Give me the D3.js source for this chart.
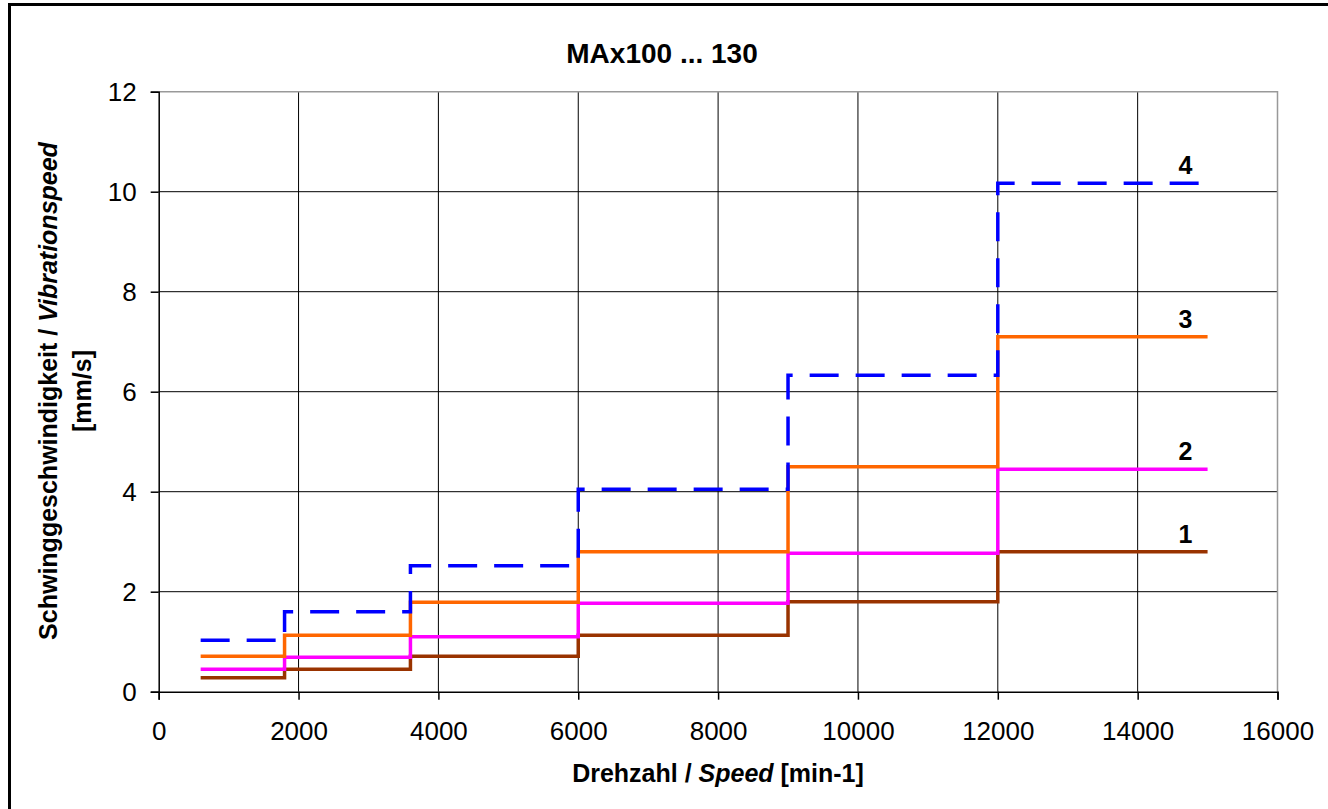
<!DOCTYPE html>
<meta charset="utf-8">
<title>MAx100 ... 130</title>
<style>
body { margin: 0; background: #fff; }
svg { display: block; }
text { font-family: "Liberation Sans", Arial, sans-serif; fill: #000; }
.tick text { font-size: 26px; }
.ttl { font-size: 25px; font-weight: bold; }
.main { font-size: 28px; font-weight: bold; }
</style>
<svg></svg>
<script src="https://cdn.jsdelivr.net/npm/d3@7"></script>
<script>
// step edges [min-1] and levels [mm/s] per curve
var speed = [600, 1800, 3600, 6000, 9000, 12000, 15000];
var curve1 = [0.28, 0.45, 0.71, 1.13, 1.8, 2.8];
var curve2 = [0.45, 0.69, 1.1, 1.77, 2.77, 4.45];
var curve3 = [0.71, 1.13, 1.79, 2.8, 4.5, 7.1];
var curve4 = [1.03, 1.6, 2.52, 4.05, 6.33, 10.17];
var curveNames = ["1", "2", "3", "4"];
var curveColors = ["#993300", "#ff00ff", "#ff6600", "#0000ff"];
var xTicks = [0, 2000, 4000, 6000, 8000, 10000, 12000, 14000, 16000];
var yTicks = [0, 2, 4, 6, 8, 10, 12];

var width = 1328, height = 809;
var svg = d3.select("svg").attr("width", width).attr("height", height);

// outer frame (runs off the right/bottom of the picture)
svg.append("rect")
    .attr("x", 9.5).attr("y", 4.5)
    .attr("width", 1400).attr("height", 900)
    .style("fill", "none").style("stroke", "#000").style("stroke-width", 3);

var x = d3.scaleLinear().domain([0, 16000]).range([158.7, 1277.5]);
var y = d3.scaleLinear().domain([0, 12]).range([691.7, 91.7]);

// grid
var grid = svg.append("g");
grid.selectAll(".gx")
    .data(xTicks.slice(1, -1))
  .enter().append("line")
    .attr("x1", d => x(d)).attr("x2", d => x(d))
    .attr("y1", y(12)).attr("y2", y(0))
    .style("stroke", "#000").style("stroke-width", 1);
grid.selectAll(".gy")
    .data(yTicks.slice(1, -1))
  .enter().append("line")
    .attr("x1", x(0)).attr("x2", x(16000))
    .attr("y1", d => y(d)).attr("y2", d => y(d))
    .style("stroke", "#000").style("stroke-width", 1);
// top + right edge of plot area, grey
grid.append("path")
    .attr("d", "M" + x(0) + "," + y(12) + "H" + x(16000) + "V" + y(0))
    .style("fill", "none").style("stroke", "#999").style("stroke-width", 1.5);

// axes
var xAxis = svg.append("g")
    .attr("transform", "translate(0," + y(0) + ")")
    .call(d3.axisBottom(x).tickValues(xTicks).tickSize(8).tickPadding(22).tickFormat(d3.format("d")));
var yAxis = svg.append("g")
    .attr("transform", "translate(" + x(0) + ",0)")
    .call(d3.axisLeft(y).tickValues(yTicks).tickSize(8).tickPadding(14).tickFormat(d3.format("d")));
[xAxis, yAxis].forEach(function(g) {
  g.attr("font-family", null).attr("font-size", null);
  g.select(".domain").style("stroke", "#000").style("stroke-width", 1.5);
  g.selectAll(".tick line").style("stroke", "#000").style("stroke-width", 1.5);
});

// step curves
var curves = [curve1, curve2, curve3, curve4];
var line = d3.line()
    .x(d => x(d[0]))
    .y(d => y(d[1]))
    .curve(d3.curveStepAfter);

curves.forEach(function(vals, i) {
  var pts = speed.map(function(s, j) { return [s, vals[Math.min(j, vals.length - 1)]]; });
  svg.append("path")
      .datum(pts)
      .attr("d", line)
      .style("fill", "none")
      .style("stroke", curveColors[i])
      .style("stroke-width", 3.5)
      .style("stroke-dasharray", i == 3 ? "29,17" : null);
  svg.append("text")
      .attr("class", "ttl")
      .attr("x", x(speed[speed.length - 1]) - 22)
      .attr("y", y(vals[vals.length - 1]) - 9)
      .attr("text-anchor", "middle")
      .text(curveNames[i]);
});

// titles
svg.append("text")
    .attr("class", "main")
    .attr("x", 662).attr("y", 63)
    .attr("text-anchor", "middle")
    .text("MAx100 ... 130");

var xt = svg.append("text")
    .attr("class", "ttl")
    .attr("x", 718).attr("y", 782)
    .attr("text-anchor", "middle");
xt.append("tspan").text("Drehzahl / ");
xt.append("tspan").style("font-style", "italic").text("Speed");
xt.append("tspan").text(" [min-1]");

var yt = svg.append("text")
    .attr("class", "ttl")
    .attr("transform", "translate(57,391) rotate(-90)")
    .attr("text-anchor", "middle");
yt.append("tspan").text("Schwinggeschwindigkeit /  ");
yt.append("tspan").style("font-style", "italic").text("Vibrationspeed");
svg.append("text")
    .attr("class", "ttl")
    .attr("transform", "translate(91,391) rotate(-90)")
    .attr("text-anchor", "middle")
    .text("[mm/s]");
</script>
